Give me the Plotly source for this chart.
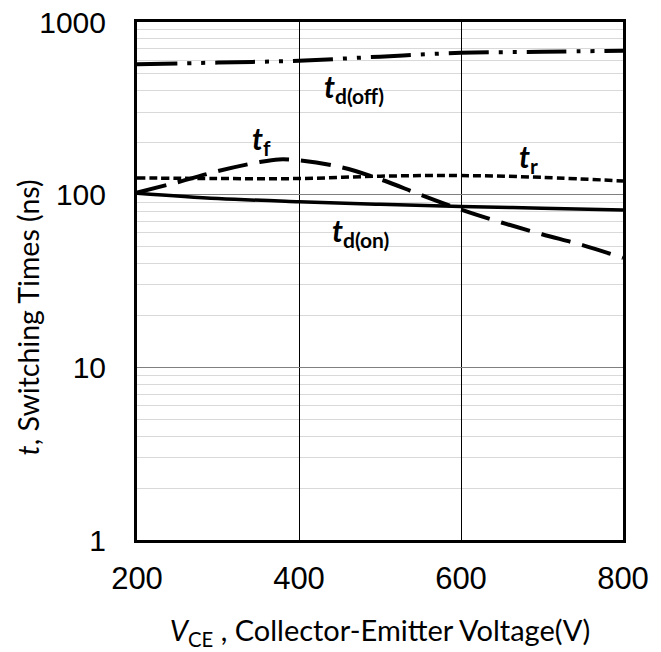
import math
import plotly.graph_objects as go

# ---- data ----
vce_off = [200, 300, 400, 500, 600, 700, 800]
td_off = [570, 582, 597, 630, 663, 672, 682]

vce_r = [200, 300, 400, 500, 600, 700, 800]
t_r = [125, 124, 124, 128, 129, 126, 120]

vce_on = [200, 300, 400, 500, 600, 700, 800]
td_on = [102, 95, 91, 88, 85.5, 83.5, 81.5]

vce_f = [200, 250, 300, 350, 375, 400, 450, 500, 550, 600, 650, 700, 750, 800]
t_f = [103, 118, 137, 154, 160, 158, 145, 123, 100, 82, 69, 59, 51, 43]

x_ticks = [200, 400, 600, 800]
y_ticks = [1, 10, 100, 1000]
y_minor = [m * 10 ** d for d in range(0, 3) for m in range(2, 10)]

fig = go.Figure()
fig.add_trace(go.Scatter(x=vce_off, y=td_off, mode="lines", line_shape="spline",
                         line=dict(color="black", width=4, dash="40px,10px,4px,10px,4px,10px")))
fig.add_trace(go.Scatter(x=vce_r, y=t_r, mode="lines", line_shape="spline",
                         line=dict(color="black", width=3.5, dash="8px,4px")))
fig.add_trace(go.Scatter(x=vce_on, y=td_on, mode="lines", line_shape="spline",
                         line=dict(color="black", width=3.5)))
fig.add_trace(go.Scatter(x=vce_f, y=t_f, mode="lines", line_shape="spline",
                         line=dict(color="black", width=4, dash="30px,12px")))

lab_font = dict(family="Lato", size=30, color="black")
labels = [
    (428, 415, "<b><i>t</i></b><sub><b>d(off)</b></sub>"),
    (339, 207, "<b><i>t</i></b><sub><b>f</b></sub>"),
    (669, 163, "<b><i>t</i></b><sub><b>r</b></sub>"),
    (438, 61, "<b><i>t</i></b><sub><b>d(on)</b></sub>"),
]
for x, y, txt in labels:
    fig.add_annotation(x=x, y=math.log10(y), text=txt, showarrow=False,
                       xanchor="left", yanchor="middle", font=lab_font)

# y-axis title (placed as a rotated annotation, slightly below the plot centre)
fig.add_annotation(x=-0.224, y=0.43, xref="paper", yref="paper",
                   text="<i>t</i>, Switching Times (ns)", textangle=-90,
                   showarrow=False, xanchor="center", yanchor="middle",
                   font=dict(family="Lato", size=28.5, color="black"))

# the page body has an 8px margin, so the figure is offset by 8px
fig.update_layout(
    width=653, height=644,
    margin=dict(l=129, r=38, t=14, b=112, autoexpand=False),
    paper_bgcolor="white", plot_bgcolor="white",
    showlegend=False,
    font=dict(family="Liberation Sans", color="black"),
)
fig.update_xaxes(
    automargin=False,
    range=[200, 800], tickvals=x_ticks, ticktext=[str(v) for v in x_ticks],
    showgrid=True, gridcolor="black", gridwidth=1,
    showline=True, mirror=True, linecolor="black", linewidth=3,
    ticks="", ticklabelstandoff=9, ticklabeloverflow="allow",
    tickfont=dict(family="Liberation Sans", size=31, color="black"),
    title=dict(text="<i>V</i><sub>CE</sub> , Collector-Emitter Voltage(V)",
               font=dict(family="Lato", size=29, color="black"), standoff=26),
)
fig.update_yaxes(
    automargin=False,
    type="log", range=[0, 3], tickvals=y_ticks, ticktext=[str(v) for v in y_ticks],
    showgrid=True, gridcolor="#808080", gridwidth=1,
    minor=dict(tickvals=y_minor, showgrid=True, gridcolor="#d9d9d9", gridwidth=1, ticks=""),
    showline=True, mirror=True, linecolor="black", linewidth=3,
    ticks="", ticklabelstandoff=22, ticklabeloverflow="allow",
    tickfont=dict(family="Liberation Sans", size=30, color="black"),
)

fig.write_html("out.html")
